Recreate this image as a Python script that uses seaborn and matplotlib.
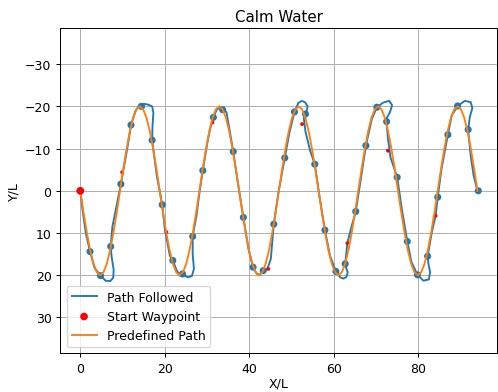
import numpy as np
import pandas as pd
import matplotlib
matplotlib.use("Agg")
import matplotlib.pyplot as plt
import seaborn as sns

pred_x = [0.00, 0.78, 1.57, 2.35, 3.13, 3.92, 4.70, 5.48, 6.27, 7.05, 7.83, 8.62, 9.40, 10.18, 10.97, 11.75,
          12.53, 13.32, 14.10, 14.88, 15.67, 16.45, 17.23, 18.02,
          18.80, 19.58, 20.37, 21.15, 21.93, 22.72, 23.50, 24.28, 25.07, 25.85, 26.63, 27.42, 28.20, 28.98,
          29.77, 30.55, 31.33, 32.12, 32.90, 33.68, 34.47, 35.25, 36.03, 36.82,
          37.60, 38.38, 39.17, 39.95, 40.73, 41.52, 42.30, 43.08, 43.87, 44.65, 45.43, 46.22, 47.00, 47.78,
          48.57, 49.35, 50.13, 50.92, 51.70, 52.48, 53.27, 54.05, 54.83, 55.62,
          56.40, 57.18, 57.97, 58.75, 59.53, 60.32, 61.10, 61.88, 62.67, 63.45, 64.23, 65.02, 65.80, 66.58,
          67.37, 68.15, 68.93, 69.72, 70.50, 71.28, 72.07, 72.85, 73.63, 74.42,
          75.20, 75.98, 76.77, 77.55, 78.33, 79.12, 79.90, 80.68, 81.47, 82.25, 83.03, 83.82, 84.60, 85.38,
          86.17, 86.95, 87.73, 88.52, 89.30, 90.08, 90.87, 91.65, 92.43, 93.22, 94.00]
pred_y = [0, 5.18, 10.0, 14.14, 17.32, 19.32, 20.0, 19.32, 17.32, 14.14, 10.0, 5.18,
          0, -5.18, -10.0, -14.14, -17.32, -19.32, -20.0, -19.32, -17.32, -14.14, -10.0, -5.18,
          0, 5.18, 10.0, 14.14, 17.32, 19.32, 20.0, 19.32, 17.32, 14.14, 10.0, 5.18,
          0, -5.18, -10.0, -14.14, -17.32, -19.32, -20.0, -19.32, -17.32, -14.14, -10.0, -5.18,
          0, 5.18, 10.0, 14.14, 17.32, 19.32, 20.0, 19.32, 17.32, 14.14, 10.0, 5.18,
          0, -5.18, -10.0, -14.14, -17.32, -19.32, -20.0, -19.32, -17.32, -14.14, -10.0, -5.18,
          0, 5.18, 10.0, 14.14, 17.32, 19.32, 20.0, 19.32, 17.32, 14.14, 10.0, 5.18,
          0, -5.18, -10.0, -14.14, -17.32, -19.32, -20.0, -19.32, -17.32, -14.14, -10.0, -5.18,
          0, 5.18, 10.0, 14.14, 17.32, 19.32, 20.0, 19.32, 17.32, 14.14, 10.0, 5.18,
          0, -5.18, -10.0, -14.14, -17.32, -19.32, -20.0, -19.32, -17.32, -14.14, -10.0, -5.18,
          0]

# Path followed (traced)
path_x = [0.0, 0.6, 1.3, 2.3, 3.4, 4.8, 6.0, 7.1, 7.8, 7.9, 7.4, 7.2, 7.6, 8.6, 9.6, 10.4, 11.2, 12.0, 13.0,
          14.1, 15.2, 16.1, 17.0, 17.3, 17.1, 17.0, 17.6, 18.1, 19.4, 20.0, 21.2, 21.9, 22.8, 23.6, 24.2, 25.5,
          26.4, 26.9, 26.6, 26.6, 27.5, 28.2, 29.0, 30.0, 30.7, 31.5, 32.3, 33.1, 33.7, 34.6, 35.4, 36.2, 37.4,
          38.6, 39.8, 40.9, 41.7, 42.5, 43.3, 44.3, 45.1, 45.8, 46.9, 47.7, 48.4, 49.5, 50.7, 51.6, 52.4,
          53.2, 53.8, 53.5, 52.9, 53.3, 54.4, 55.5, 56.7, 57.9, 59.1, 60.5, 61.5, 62.3, 63.0, 63.3, 62.9, 62.7,
          63.2, 64.2, 65.2, 66.4, 67.6, 69.0, 70.2, 71.7, 73.1, 73.8, 73.3, 72.6, 72.5, 72.8, 73.4, 74.4, 75.0,
          76.1, 77.4, 78.4, 79.8, 81.2, 82.5, 82.8, 82.4, 82.2, 83.2, 84.1, 84.6, 85.5, 87.0, 87.9, 89.3, 91.0,
          92.4, 92.8, 92.2, 91.8, 92.4, 93.1, 94.0]
path_y = [0.0, 5.0, 10.0, 14.4, 18.3, 20.1, 21.3, 21.4, 20.6, 18.7, 15.5, 13.2, 8.5, 3.5, -1.6, -6.0, -10.5, -15.6, -18.8,
          -20.5, -20.6, -20.4, -20.0, -18.5, -15.5, -12.0, -7.5, -3.6, 3.3, 9.0, 15.4, 16.5, 18.8, 20.1, 19.9, 20.5,
          20.2, 18.5, 15.0, 10.8, 5.9, 0.5, -4.8, -11.0, -14.6, -17.4, -19.2, -19.8, -19.5, -18.6, -14.0, -9.3, -1.2,
          6.3, 13.8, 18.1, 19.6, 19.9, 19.0, 18.5, 16.1, 7.9, 0.4, -4.0, -7.8, -13.8, -18.7, -20.8, -21.3,
          -21.0, -20.0, -18.6, -17.2, -14.0, -9.5, -6.3, 1.9, 9.3, 15.4, 19.1, 20.5, 20.8, 20.4, 19.3, 18.2, 17.3,
          12.4, 8.5, 4.9, -2.8, -10.7, -17.0, -19.8, -20.9, -21.3, -20.3, -18.6, -17.4, -16.4, -12.5, -8.0, -5.0, -3.2,
          4.3, 12.0, 16.9, 19.9, 21.3, 21.0, 19.3, 17.3, 15.5, 9.8, 5.9, 1.5, -5.2, -13.3, -17.8, -20.1, -21.3,
          -21.0, -19.6, -17.5, -14.5, -8.3, -3.6, 0.0]

# Waypoints reached (blue dots)
wp_x = [0.0, 2.3, 4.8, 7.2, 9.6, 12.0, 14.5, 17.0, 19.4, 21.9, 24.2, 26.6, 29.0, 31.5, 33.7, 36.2, 38.6,
        40.9, 43.3, 45.8, 48.4, 50.7, 53.3, 55.5, 57.9, 60.5, 62.7, 65.2, 67.6, 70.2, 72.5, 75.0, 77.4,
        79.8, 82.2, 84.6, 87.0, 89.3, 91.8, 94.2]
wp_y = [0.0, 14.4, 20.1, 13.2, -1.6, -15.6, -20.0, -12.0, 3.3, 16.5, 19.7, 10.8, -4.8, -17.4, -19.2, -9.3,
        6.3, 18.1, 18.9, 7.9, -7.8, -18.7, -18.2, -6.3, 9.3, 19.1, 17.3, 4.9, -10.7, -19.8, -16.4, -3.2,
        12.0, 19.9, 15.5, 1.5, -13.3, -20.1, -14.5, 0.0]

# Small red marks along the path
red_x = [9.9, 20.4, 31.3, 44.5, 52.5, 63.2, 72.8, 84.1]
red_y = [-4.4, 9.8, -16.2, 18.5, -15.8, 12.4, -9.5, 5.9]

start_x = [0.0]
start_y = [0.0]

DPI = 90
fig = plt.figure(figsize=(498 / DPI, 393 / DPI), dpi=DPI)
ax = fig.add_axes([60.3 / 498, 1 - 354.3 / 393, 437.0 / 498, 325.0 / 393])

blue = "#1f77b4"
orange = "#ff7f0e"

sns.lineplot(x=path_x, y=path_y, sort=False, estimator=None, color=blue, linewidth=1.5,
             label="Path Followed", ax=ax, zorder=2)
sns.scatterplot(x=wp_x, y=wp_y, color=blue, s=32, edgecolor="none", linewidth=0, ax=ax,
                zorder=3, legend=False)
sns.scatterplot(x=red_x, y=red_y, color="red", s=9, edgecolor="none", linewidth=0, ax=ax,
                zorder=3.5, legend=False)
sns.scatterplot(x=start_x, y=start_y, color="red", s=38, edgecolor="none", linewidth=0, ax=ax,
                zorder=5, label="Start Waypoint")
sns.lineplot(x=pred_x, y=pred_y, sort=False, estimator=None, color=orange, linewidth=1.5,
             label="Predefined Path", ax=ax, zorder=4)

ax.set_xlim(-4.73, 98.7)
ax.set_ylim(38.5, -38.5)
ax.set_xticks([0, 20, 40, 60, 80])
ax.set_yticks([-30, -20, -10, 0, 10, 20, 30])
ax.grid(True, color="#b0b0b0", linewidth=0.8)
ax.set_axisbelow(True)
ax.set_title("Calm Water", fontsize=12)
ax.set_xlabel("X/L", fontsize=10, labelpad=1.5)
ax.set_ylabel("Y/L", fontsize=10)

h, l = ax.get_legend_handles_labels()
order = [l.index("Path Followed"), l.index("Start Waypoint"), l.index("Predefined Path")]
ax.legend([h[i] for i in order], [l[i] for i in order], loc="lower left", fontsize=10)

fig.savefig("out.png", dpi=DPI)
